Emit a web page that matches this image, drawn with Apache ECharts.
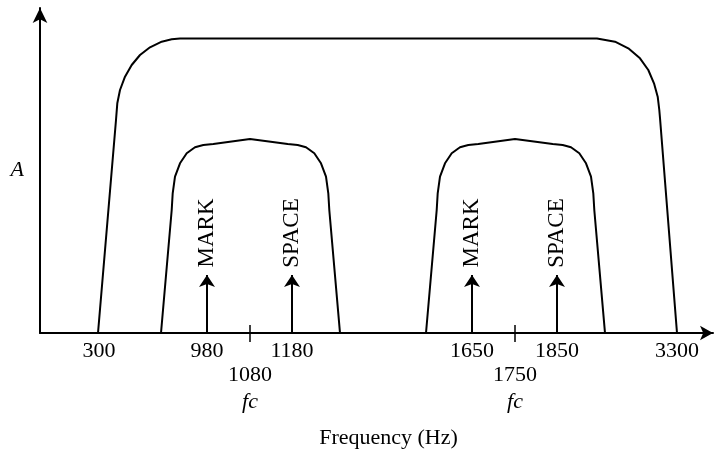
<!DOCTYPE html>
<html>
<head>
<meta charset="utf-8">
<script src="https://cdn.jsdelivr.net/npm/echarts@6/dist/echarts.min.js"></script>
<style>
  html, body { margin: 0; padding: 0; background: #fff; }
  #main { width: 715px; height: 449px; }
</style>
</head>
<body>
<div id="main"></div>
<script>
// 示意图坐标（横轴按图中位置，非线性频率）
const tickPos = [59, 167, 210, 252, 432, 475, 517, 637];
const tickText = ['300', '980', '1080', '1180', '1650', '1750', '1850', '3300'];
const centerTicks = [210, 475];

// 外层通带 300 ~ 3300 Hz
const bandOuter = [[58, 0], [76, 213], [77.3, 229.7], [80, 243], [85, 256.3], [91.7, 268],
  [100, 278], [110, 285.7], [121.7, 291.3], [131.7, 293.7], [140, 294.5],
  [557, 294.5], [575, 291.3], [588.3, 284.7], [600, 274.7], [608.3, 263], [614, 249.7],
  [617.7, 236.3], [619.3, 223], [620, 215], [637, 0]];
// 低频滤波器 (fc = 1080)
const bandLow = [[121, 0], [131.7, 123], [132.7, 139.7], [135, 156.3], [140, 169.7],
  [146.7, 179.7], [155, 185.7], [163.3, 188], [173.3, 189], [210, 194],
  [247.7, 189], [257.7, 188], [266, 185.7], [274.3, 179.7], [281, 169.7], [286, 156.3],
  [288.3, 139.7], [289.3, 123], [300, 0]];
// 高频滤波器 (fc = 1750)
const bandHigh = [[386, 0], [396.7, 123], [397.7, 139.7], [400, 156.3], [405, 169.7],
  [411.7, 179.7], [420, 185.7], [428.3, 188], [438.3, 189], [475, 194],
  [512.7, 189], [522.7, 188], [531, 185.7], [539.3, 179.7], [546, 169.7], [551, 156.3],
  [553.3, 139.7], [554.3, 123], [565, 0]];

// MARK / SPACE 箭头
const arrowNames = ['MARK', 'SPACE', 'MARK', 'SPACE'];
const arrowPos = [167, 252, 432, 517];
const arrowHeight = 58;
const labelY = 100;

const font = 'Liberation Serif';
const chart = echarts.init(document.getElementById('main'));

const lineStyle = { color: '#000', width: 2 };

chart.setOption({
  animation: false,
  grid: { left: 40, right: 2, top: 8, bottom: 116, outerBoundsMode: 'none' },
  xAxis: {
    type: 'value',
    min: 0,
    max: 673,
    name: 'Frequency (Hz)',
    nameLocation: 'middle',
    nameGap: 94,
    nameTextStyle: { fontFamily: font, fontSize: 22, color: '#000', padding: [0, 0, 0, 24] },
    axisLine: { lineStyle: { color: '#000', width: 2 }, symbol: ['none', 'arrow'], symbolSize: [11, 13] },
    axisTick: { show: true, customValues: centerTicks, length: 9, lineStyle: { color: '#000', width: 1.5 } },
    axisLabel: {
      customValues: tickPos,
      margin: 6,
      fontFamily: font,
      fontSize: 22,
      color: '#000',
      lineHeight: 24,
      formatter: v => {
        const t = tickText[tickPos.indexOf(v)];
        return centerTicks.includes(v) ? '\n' + t + '\n{fc|fc}' : t;
      },
      rich: { fc: { fontFamily: font, fontSize: 22, fontStyle: 'italic', color: '#000', lineHeight: 30 } }
    },
    splitLine: { show: false }
  },
  yAxis: {
    type: 'value',
    min: 0,
    max: 325,
    name: 'A',
    nameLocation: 'middle',
    nameRotate: 0,
    nameGap: 16,
    nameTextStyle: { fontFamily: font, fontSize: 22, fontStyle: 'italic', color: '#000' },
    axisLine: { show: true, lineStyle: { color: '#000', width: 2 }, symbol: ['none', 'arrow'], symbolSize: [11, 15] },
    axisTick: { show: false },
    axisLabel: { show: false },
    splitLine: { show: false }
  },
  series: [
    { type: 'line', data: bandOuter, showSymbol: false, lineStyle },
    { type: 'line', data: bandLow, showSymbol: false, lineStyle },
    { type: 'line', data: bandHigh, showSymbol: false, lineStyle },
    {
      type: 'lines',
      coordinateSystem: 'cartesian2d',
      symbol: ['none', 'arrow'],
      symbolSize: 12,
      lineStyle: { color: '#000', width: 2, opacity: 1 },
      data: arrowPos.map(x => ({ coords: [[x, 0], [x, arrowHeight]] }))
    },
    {
      type: 'lines',
      coordinateSystem: 'cartesian2d',
      symbol: 'none',
      lineStyle: { color: '#000', width: 1.5, opacity: 1 },
      data: centerTicks.map(x => ({ coords: [[x, 0], [x, 8]] }))
    },
    {
      type: 'scatter',
      symbolSize: 0,
      itemStyle: { opacity: 1 },
      data: arrowPos.map((x, i) => ({ value: [x, labelY], name: arrowNames[i] })),
      label: {
        show: true,
        position: 'inside',
        rotate: 90,
        formatter: p => p.name,
        fontFamily: font,
        fontSize: 23,
        color: '#000',
        opacity: 1
      }
    }
  ]
});
</script>
</body>
</html>
